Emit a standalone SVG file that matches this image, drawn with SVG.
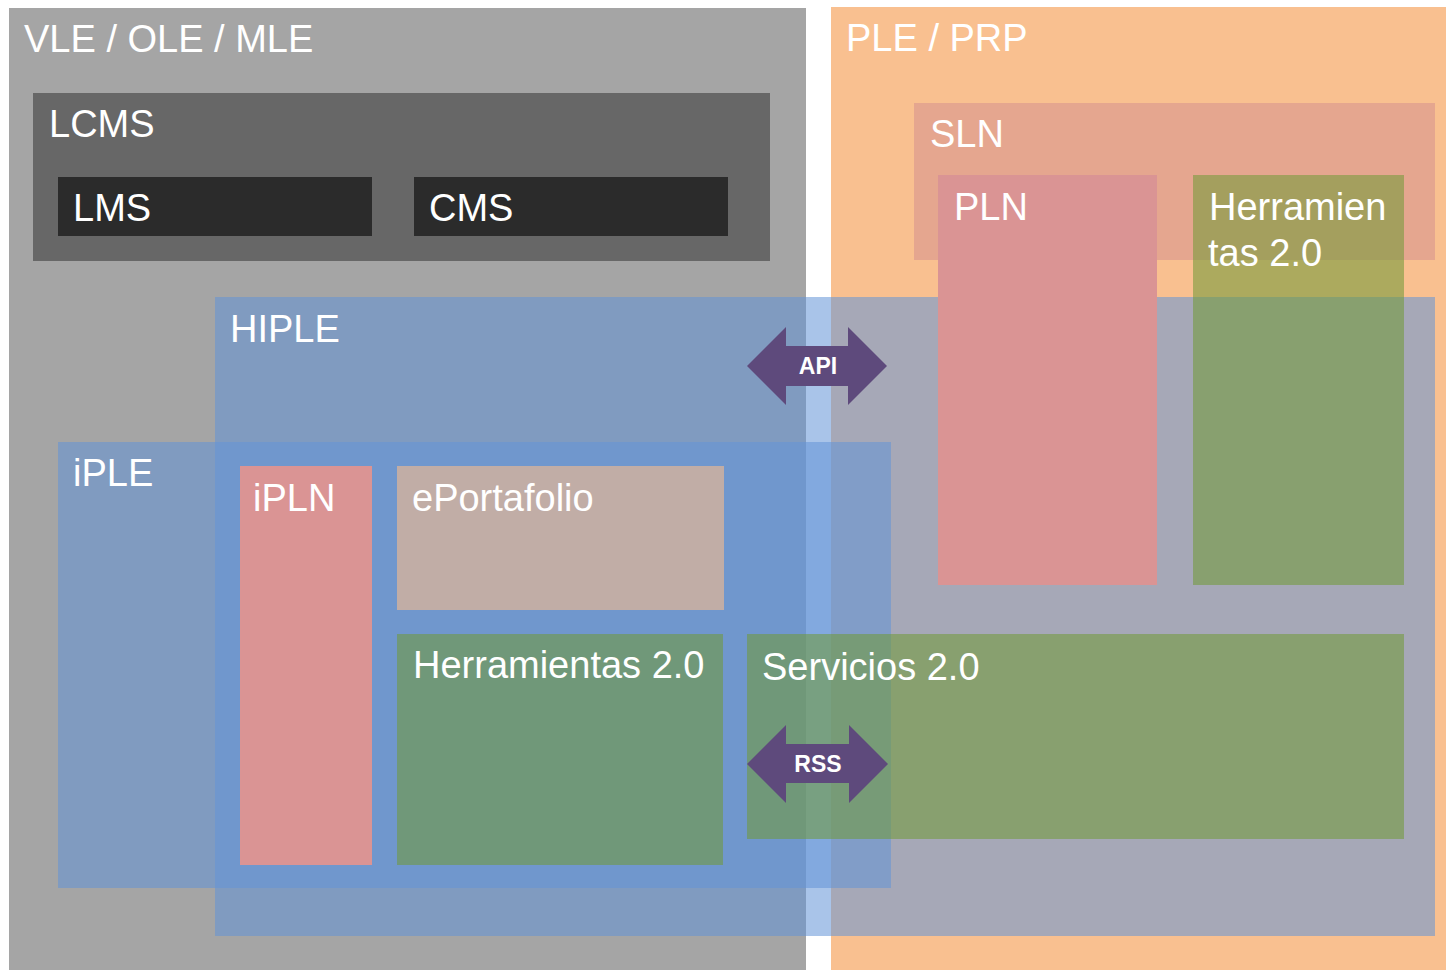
<svg xmlns="http://www.w3.org/2000/svg" width="1446" height="970" viewBox="0 0 1446 970">
<style>
text{font-family:"Liberation Sans",Arial,sans-serif;fill:#ffffff;font-size:38px}
.lbl{font-weight:bold;font-size:23px;text-anchor:middle}
.blue{fill:#6394d7;fill-opacity:0.55}
.olive{fill:#719938;fill-opacity:0.56}
.pink{fill:#da9494}
.arrow{fill:#5e4a7c}
</style>
<rect width="1446" height="970" fill="#ffffff"/>
<g id="vle"><rect x="9" y="8" width="797" height="962" fill="#a5a5a5"/><text x="24" y="52">VLE / OLE / MLE</text></g>
<g id="ple"><rect x="831" y="7" width="615" height="963" fill="#f9c090"/><text x="846" y="51">PLE / PRP</text></g>
<g id="lcms"><rect x="33" y="93" width="737" height="168" fill="#676767"/><text x="49" y="137">LCMS</text></g>
<g id="lms"><rect x="58" y="177" width="314" height="59" fill="#2b2b2b"/><text x="73" y="221">LMS</text></g>
<g id="cms"><rect x="414" y="177" width="314" height="59" fill="#2b2b2b"/><text x="429" y="221">CMS</text></g>
<g id="sln"><rect x="914" y="103" width="521" height="157" fill="#e5a68f"/><text x="930" y="147">SLN</text></g>
<g id="hiple"><rect x="215" y="297" width="1220" height="639" class="blue"/><text x="230" y="342">HIPLE</text></g>
<g id="pln"><rect x="938" y="175" width="219" height="410" class="pink"/><text x="954" y="220">PLN</text></g>
<g id="herramientas-r"><rect x="1193" y="175" width="211" height="410" class="olive"/><text x="1209" y="220">Herramien</text><text x="1208" y="266">tas 2.0</text></g>
<g id="iple"><rect x="58" y="442" width="833" height="446" class="blue"/><text x="73" y="486">iPLE</text></g>
<g id="ipln"><rect x="240" y="466" width="132" height="399" class="pink"/><text x="253" y="511">iPLN</text></g>
<g id="eportafolio"><rect x="397" y="466" width="327" height="144" fill="#c1ada6"/><text x="412" y="511">ePortafolio</text></g>
<g id="herramientas-l"><rect x="397" y="634" width="326" height="231" class="olive"/><text x="413" y="678">Herramientas 2.0</text></g>
<g id="servicios"><rect x="747" y="634" width="657" height="205" class="olive"/><text x="762" y="680">Servicios 2.0</text></g>
<g id="connectors">
<g id="api"><polygon class="arrow" points="747,366 786,327 786,346 848,346 848,327 887,366 848,405 848,386 786,386 786,405"/><text class="lbl" x="818" y="374">API</text></g>
<g id="rss"><polygon class="arrow" points="747,764 786,725 786,744 849,744 849,725 888,764 849,803 849,783 786,783 786,803"/><text class="lbl" x="818" y="772">RSS</text></g>
</g>
</svg>
